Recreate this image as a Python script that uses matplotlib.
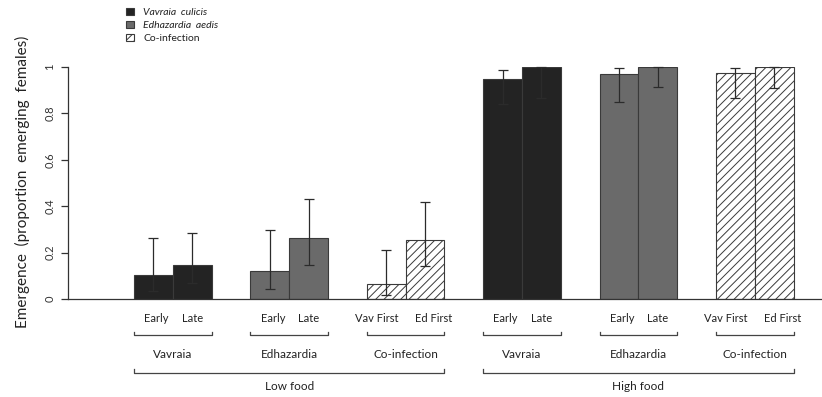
import matplotlib
matplotlib.use("Agg")
import matplotlib.pyplot as plt
import matplotlib.transforms as mtransforms
import numpy as np

plt.rcParams['font.family'] = ['Lato', 'DejaVu Sans']
plt.rcParams['hatch.linewidth'] = 0.7

# ---- data ----
food_levels = ["Low food", "High food"]
infections = ["Vavraia", "Edhazardia", "Co-infection"]
bar_labels = [["Early", "Late"], ["Early", "Late"], ["Vav First", "Ed First"]]
legend_labels = ["Vavraia  culicis", "Edhazardia  aedis", "Co-infection"]

low_vals = [0.102, 0.145, 0.121, 0.262, 0.065, 0.256]
low_lo = [0.034, 0.068, 0.042, 0.145, 0.016, 0.144]
low_hi = [0.262, 0.283, 0.299, 0.431, 0.211, 0.418]
high_vals = [0.950, 1.000, 0.970, 1.000, 0.973, 1.000]
high_lo = [0.842, 0.865, 0.851, 0.912, 0.865, 0.909]
high_hi = [0.987, 1.000, 0.994, 1.000, 0.994, 1.000]

yticks = [0, 0.2, 0.4, 0.6, 0.8, 1]
ytick_labels = ["0", "0.2", "0.4", "0.6", "0.8", "1"]

# ---- styles ----
fills = {"Vavraia": "#232323", "Edhazardia": "#6a6a6a", "Co-infection": "white"}
hatches = {"Vavraia": None, "Edhazardia": None, "Co-infection": "////"}
edge = "#3a3a3a"

W, H = 822, 397
fig = plt.figure(figsize=(W / 100, H / 100), dpi=100)
ax = fig.add_axes([68 / W, (H - 299) / H, (W - 68) / W, (299 - 67) / H])
ax.set_xlim(-1.70, 17.73)
ax.set_ylim(0, 1)

vals = low_vals + high_vals
los = low_lo + high_lo
his = low_hi + high_hi
n = len(vals)
centers = []
handles = {}
for k in range(n):
    g = k // 2
    inf = infections[g % 3]
    x = 3 * g + (k % 2) + 0.5
    centers.append(x)
    b = ax.bar(x, vals[k], width=1.0, color=fills[inf], edgecolor=edge,
               linewidth=0.8, hatch=hatches[inf], zorder=2)
    handles.setdefault(inf, b)
    ax.errorbar(x, vals[k], yerr=[[vals[k] - los[k]], [his[k] - vals[k]]],
                fmt='none', ecolor="#2b2b2b", elinewidth=0.9, capsize=3.8,
                capthick=0.9, zorder=3, clip_on=False)

# axes styling
for s in ["top", "right"]:
    ax.spines[s].set_visible(False)
ax.spines["left"].set_bounds(0, 1)
ax.spines["left"].set_color("#333333")
ax.spines["bottom"].set_color("#333333")
ax.spines["left"].set_linewidth(0.9)
ax.spines["bottom"].set_linewidth(0.9)
ax.set_xticks([])
ax.set_yticks(yticks)
ax.set_yticklabels(ytick_labels, rotation=90, va="center", fontsize=8, color="#222222")
ax.tick_params(axis="y", direction="out", length=5.2, width=0.9, pad=4, colors="#333333")

fig.text(22 / W, (H - 182) / H, "Emergence  (proportion  emerging  females)",
         rotation=90, ha="center", va="center", fontsize=11, color="#222222")

# group labels beneath axis
tr = mtransforms.blended_transform_factory(ax.transData, fig.transFigure)
def fy(py):
    return (H - py) / H

offsets = {"Early": 0.08, "Late": 0.0, "Vav First": -0.25, "Ed First": 0.22}
for k in range(n):
    g = k // 2
    lab = bar_labels[g % 3][k % 2]
    ax.text(centers[k] + offsets[lab], fy(319), lab, transform=tr, ha="center",
            va="center", fontsize=8, color="#222222")

tick_h = 3.5
for g in range(6):
    x0 = 3 * g
    x1 = 3 * g + 2
    ax.plot([x0, x0, x1, x1], [fy(335 - tick_h), fy(335), fy(335), fy(335 - tick_h)],
            transform=tr, color="#444444", lw=0.9, clip_on=False)
    ax.text((x0 + x1) / 2, fy(354), infections[g % 3], transform=tr, ha="center",
            va="center", fontsize=8.5, color="#222222")

for f in range(2):
    x0 = 9 * f
    x1 = 9 * f + 8
    ax.plot([x0, x0, x1, x1], [fy(372.5 - tick_h), fy(372.5), fy(372.5), fy(372.5 - tick_h)],
            transform=tr, color="#444444", lw=0.9, clip_on=False)
    ax.text((x0 + x1) / 2, fy(387), food_levels[f], transform=tr, ha="center",
            va="center", fontsize=8.5, color="#222222")

leg = fig.legend([handles[i] for i in infections], legend_labels,
                 loc="upper left", bbox_to_anchor=(122 / W, 1 - 4 / H),
                 frameon=False, fontsize=7.5, handlelength=0.75, handleheight=0.7,
                 handletextpad=0.9, labelspacing=0.35, borderaxespad=0)
for i, t in enumerate(leg.get_texts()):
    if i < 2:
        t.set_style("italic")
    t.set_color("#222222")

fig.savefig("out.png", dpi=100)
